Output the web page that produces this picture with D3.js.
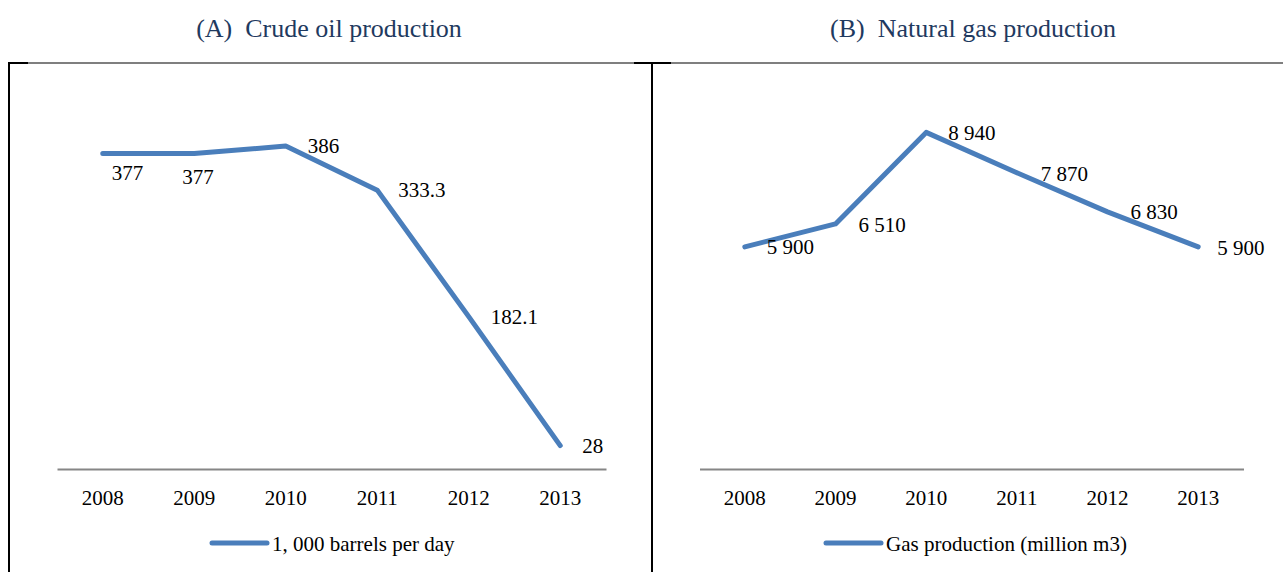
<!DOCTYPE html>
<html>
<head>
<meta charset="utf-8">
<script src="https://cdn.jsdelivr.net/npm/d3@7"></script>
<style>
  body { margin: 0; background: #fff; }
  text { font-family: "Liberation Serif", "Times New Roman", serif; }
</style>
</head>
<body>
<svg id="chart"></svg>
<script>
// data
var years = ["2008", "2009", "2010", "2011", "2012", "2013"];
var oilValues = [377, 377, 386, 333.3, 182.1, 28];
var oilLabels = ["377", "377", "386", "333.3", "182.1", "28"];
var gasValues = [5900, 6510, 8940, 7870, 6830, 5900];
var gasLabels = ["5 900", "6 510", "8 940", "7 870", "6 830", "5 900"];

var titleA = "(A)\u00a0\u00a0Crude oil production";
var titleB = "(B)\u00a0\u00a0Natural gas production";
var legendA = "1, 000 barrels per day";
var legendB = "Gas production (million m3)";

// label nudges (dx of left edge, dy of centre) - mostly "right of point"
var oilLabelShift = [[9, 19], [-12, 23], [22, 0], [21, 0], [22, 0], [22, 0]];
var gasLabelShift = [[22, 0], [23, 1], [22, 0], [24, 1], [23, 0], [19, 1]];

var width = 1283,
    height = 572;

var lineColor = "#4A7EBB";

var svg = d3.select("#chart")
    .attr("width", width)
    .attr("height", height);

// table-like frame around the two panels
var frame = svg.append("g").attr("stroke", "#000");
frame.append("line").attr("x1", 8).attr("x2", width).attr("y1", 63).attr("y2", 63).attr("stroke-width", 1.2);
frame.append("line").attr("x1", 8).attr("x2", 28).attr("y1", 63).attr("y2", 63).attr("stroke-width", 2);
frame.append("line").attr("x1", 634).attr("x2", 671).attr("y1", 63).attr("y2", 63).attr("stroke-width", 2);
frame.append("line").attr("x1", 9).attr("x2", 9).attr("y1", 62).attr("y2", height).attr("stroke-width", 2);
frame.append("line").attr("x1", 652).attr("x2", 652).attr("y1", 62).attr("y2", height).attr("stroke-width", 2);

function panel(opts) {

  var g = svg.append("g");

  // title above the frame
  g.append("text")
      .attr("x", opts.titleX)
      .attr("y", 37)
      .attr("text-anchor", "middle")
      .attr("font-size", 26)
      .attr("fill", "#1F3A60")
      .text(opts.title);

  var x = d3.scaleBand()
      .domain(years)
      .range(opts.xRange);

  var y = d3.scaleLinear()
      .domain([0, opts.yMax])
      .range([469, 92.5]);

  // category axis: grey baseline, no ticks
  var axis = g.append("g")
      .attr("transform", "translate(0,469)")
      .call(d3.axisBottom(x).tickSize(0).tickPadding(21));
  axis.select(".domain").attr("stroke", "#868686").attr("stroke-width", 2);
  axis.selectAll("text")
      .attr("font-size", 21)
      .attr("font-family", "Liberation Serif, serif")
      .attr("fill", "#000");

  var pts = years.map(function(d, i){
      return {year: d, value: opts.values[i], label: opts.labels[i], shift: opts.shift[i]};
  });

  var line = d3.line()
      .x(function(d){ return x(d.year) + x.bandwidth() / 2; })
      .y(function(d){ return y(d.value); });

  g.append("path")
      .datum(pts)
      .attr("d", line)
      .attr("fill", "none")
      .attr("stroke", lineColor)
      .attr("stroke-width", 5)
      .attr("stroke-linecap", "round")
      .attr("stroke-linejoin", "round");

  g.selectAll(".lbl")
      .data(pts)
      .enter()
      .append("text")
      .attr("class", "lbl")
      .attr("x", function(d){ return x(d.year) + x.bandwidth() / 2 + d.shift[0]; })
      .attr("y", function(d){ return y(d.value) + d.shift[1]; })
      .attr("dy", "0.35em")
      .attr("font-size", 21)
      .attr("fill", "#000")
      .text(function(d){ return d.label; });

  // legend
  g.append("line")
      .attr("x1", opts.legendX).attr("x2", opts.legendX + 55)
      .attr("y1", 543).attr("y2", 543)
      .attr("stroke", lineColor)
      .attr("stroke-width", 5)
      .attr("stroke-linecap", "round");
  g.append("text")
      .attr("x", opts.legendX + 60)
      .attr("y", 551)
      .attr("font-size", 21)
      .attr("fill", "#000")
      .text(opts.legend);
}

panel({
  title: titleA, titleX: 329,
  xRange: [57, 606], yMax: 450,
  values: oilValues, labels: oilLabels, shift: oilLabelShift,
  legend: legendA, legendX: 212
});

panel({
  title: titleB, titleX: 973,
  xRange: [699.5, 1243.5], yMax: 10000,
  values: gasValues, labels: gasLabels, shift: gasLabelShift,
  legend: legendB, legendX: 826
});
</script>
</body>
</html>
